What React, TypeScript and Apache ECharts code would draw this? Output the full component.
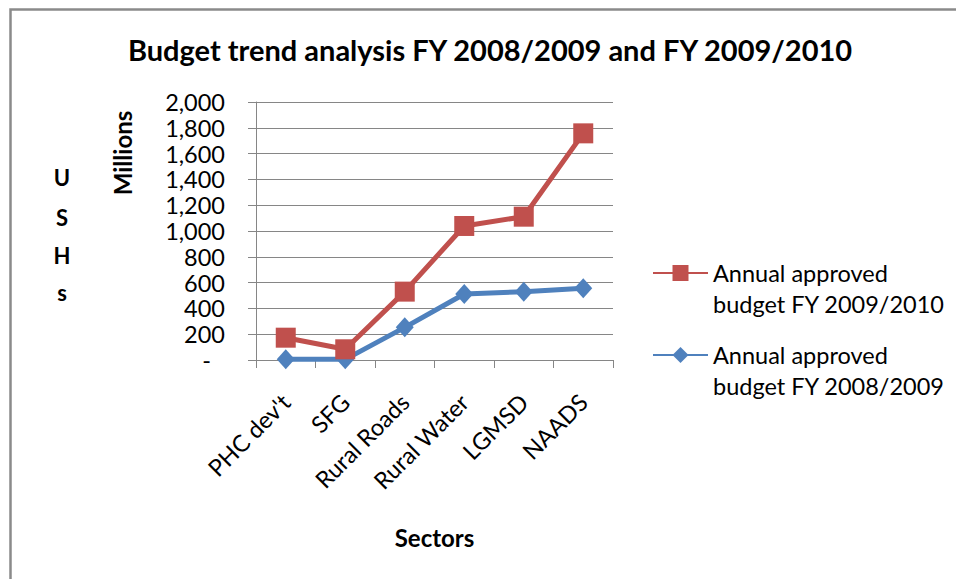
import React, { useEffect, useRef } from "react";
import * as echarts from "echarts";

const categories = ["PHC dev't", "SFG", "Rural Roads", "Rural Water", "LGMSD", "NAADS"];
const budget2008_2009 = [5, 5, 253, 512, 530, 556];
const budget2009_2010 = [173, 83, 530, 1039, 1111, 1757];
const yMin = 0;
const yMax = 2000;
const yInterval = 200;
const seriesNames = ["Annual approved budget FY 2008/2009", "Annual approved budget FY 2009/2010"];
const sideLetters = ["U", "S", "H", "s"];

const FONT = "Lato";
const RED = "#C0504D";
const BLUE = "#4F81BD";

export default function App() {
  const ref = useRef<HTMLDivElement>(null);
  useEffect(() => {
    if (!ref.current) return;
    const chart = echarts.init(ref.current, undefined, { renderer: "svg" });
    const letterY = [177, 217, 255, 292];
    const legendText = { fontFamily: FONT, fontSize: 23.5, color: "#000", lineHeight: 31 };
    const fmt = (name: string) => "\n" + name.replace(" budget", "\nbudget");
    chart.setOption({
      animation: false,
      backgroundColor: "#ffffff",
      textStyle: { fontFamily: FONT },
      title: {
        text: "Budget trend analysis FY 2008/2009 and FY 2009/2010",
        left: 485,
        top: 30,
        textAlign: "center",
        textStyle: { fontFamily: FONT, fontSize: 29, fontWeight: "bold", color: "#000" },
      },
      grid: { left: 256, right: 343, top: 102, bottom: 219, containLabel: false },
      legend: [
        {
          orient: "vertical",
          left: 652,
          top: 273 - 46.5,
          padding: 0,
          itemWidth: 55,
          itemHeight: 20,
          data: [seriesNames[1]],
          formatter: fmt,
          textStyle: legendText,
        },
        {
          orient: "vertical",
          left: 652,
          top: 355 - 46.5,
          padding: 0,
          itemWidth: 55,
          itemHeight: 20,
          data: [seriesNames[0]],
          formatter: fmt,
          textStyle: legendText,
        },
      ],
      xAxis: {
        type: "category",
        data: categories,
        boundaryGap: true,
        name: "Sectors",
        nameLocation: "middle",
        nameGap: 165,
        nameTextStyle: { fontFamily: FONT, fontSize: 24, fontWeight: "bold", color: "#000" },
        axisLine: { lineStyle: { color: "#868686", width: 1 } },
        axisTick: { show: true, alignWithLabel: false, length: 8, lineStyle: { color: "#868686" } },
        axisLabel: { rotate: 45, margin: 38, fontFamily: FONT, fontSize: 23.5, color: "#000", interval: 0 },
        splitLine: { show: false },
      },
      yAxis: {
        type: "value",
        min: yMin,
        max: yMax,
        interval: yInterval,
        axisLine: { show: true, lineStyle: { color: "#868686", width: 1 } },
        axisTick: { show: true, length: 8, lineStyle: { color: "#868686" } },
        axisLabel: {
          margin: 31,
          fontFamily: FONT,
          fontSize: 23.5,
          lineHeight: 20,
          color: "#000",
          formatter: (v: number) => (v === 0 ? "{d|-}" : v.toLocaleString("en-US")),
          rich: { d: { fontFamily: FONT, fontSize: 23.5, lineHeight: 20, color: "#000", padding: [0, 14, 0, 0] } },
        },
        splitLine: { show: true, lineStyle: { color: "#868686", width: 1 } },
      },
      series: [
        {
          name: seriesNames[0],
          type: "line",
          data: budget2008_2009,
          symbol: "diamond",
          symbolSize: [18, 20],
          lineStyle: { color: BLUE, width: 5 },
          itemStyle: { color: BLUE },
          z: 2,
        },
        {
          name: seriesNames[1],
          type: "line",
          data: budget2009_2010,
          symbol: "rect",
          symbolSize: 20,
          lineStyle: { color: RED, width: 5 },
          itemStyle: { color: RED },
          z: 3,
        },
      ],
      graphic: [
        {
          type: "polyline",
          shape: { points: [[10.5, 600], [10.5, 9.5], [980, 9.5]] },
          style: { stroke: "#8a8a8a", lineWidth: 2.5, fill: null },
          silent: true,
        },
        {
          type: "text",
          x: 122,
          y: 153,
          rotation: Math.PI / 2,
          style: {
            text: "Millions",
            fontFamily: FONT,
            fontSize: 24,
            fontWeight: "bold",
            fill: "#000",
            align: "center",
            verticalAlign: "middle",
          },
        },
        ...sideLetters.map((ch, i) => ({
          type: "text",
          x: 62,
          y: letterY[i],
          style: {
            text: ch,
            fontFamily: FONT,
            fontSize: 22,
            fontWeight: "bold",
            fill: "#000",
            align: "center",
            verticalAlign: "middle",
          },
        })),
      ],
    });
    return () => chart.dispose();
  }, []);
  return (
    <div
      ref={ref}
      style={{ position: "absolute", left: 0, top: 0, width: 956, height: 579 }}
    />
  );
}
